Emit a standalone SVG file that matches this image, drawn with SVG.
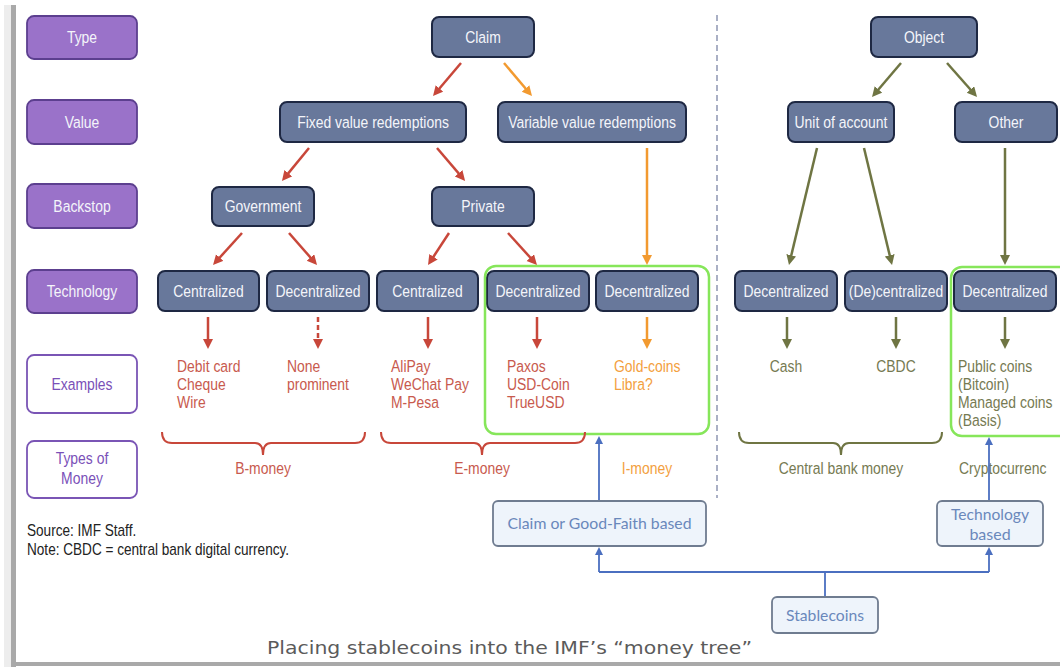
<svg xmlns="http://www.w3.org/2000/svg" width="1060" height="668" viewBox="0 0 1060 668">
<style>
.t{font-family:"Liberation Sans",Arial,sans-serif;font-size:17px}
.w{fill:#f4f5fa}
.c{text-anchor:middle}
.lab rect{fill:#9a72c9;stroke:#5c3f8f;stroke-width:1.8}
.lab2 rect{fill:#ffffff;stroke:#7a55b5;stroke-width:1.8}
.lab2 text{fill:#7a50b8}
.nd rect{fill:#68789b;stroke:#1e2843;stroke-width:2}
.red{fill:#c85a4e}
.org{fill:#f3a040}
.olv{fill:#767a52}
.ar{fill:none;stroke-width:2.5}
.br{fill:none;stroke-width:2}
.bx rect{fill:#eef4fb;stroke:#6f7c90;stroke-width:1.8}
.bt{font-family:Lato,"Open Sans",sans-serif;font-size:16px;fill:#6a88bb;text-anchor:middle}
</style>
<defs>
<marker id="mr" markerUnits="userSpaceOnUse" markerWidth="12" markerHeight="12" refX="6" refY="5" orient="auto"><path d="M0,0 L10,5 L0,10 z" fill="#c8473a"/></marker>
<marker id="mo" markerUnits="userSpaceOnUse" markerWidth="12" markerHeight="12" refX="6" refY="5" orient="auto"><path d="M0,0 L10,5 L0,10 z" fill="#f29a30"/></marker>
<marker id="mg" markerUnits="userSpaceOnUse" markerWidth="12" markerHeight="12" refX="6" refY="5" orient="auto"><path d="M0,0 L10,5 L0,10 z" fill="#6f7543"/></marker>
<marker id="mb" markerUnits="userSpaceOnUse" markerWidth="10" markerHeight="10" refX="5" refY="4" orient="auto"><path d="M0,0 L8,4 L0,8 z" fill="#4b6fc0"/></marker>
</defs>
<rect width="1060" height="668" fill="#ffffff"/>
<!-- frame -->
<rect x="4" y="5" width="7" height="662" fill="#ededed"/>
<rect x="11" y="5" width="5" height="662" fill="#a9a9a9"/>
<rect x="11" y="662" width="1049" height="4" fill="#a9a9a9"/>
<line x1="717" y1="15" x2="717" y2="498" stroke="#8e96b2" stroke-width="1.5" stroke-dasharray="6,4"/>

<!-- left labels -->
<g id="lab-type" class="lab"><rect x="27" y="16" width="110" height="43" rx="7"/><text class="t w c" transform="translate(82 43) scale(.82 1)">Type</text></g>
<g id="lab-value" class="lab"><rect x="27" y="100" width="110" height="44" rx="7"/><text class="t w c" transform="translate(82 128) scale(.82 1)">Value</text></g>
<g id="lab-backstop" class="lab"><rect x="27" y="184" width="110" height="44" rx="7"/><text class="t w c" transform="translate(82 212) scale(.82 1)">Backstop</text></g>
<g id="lab-tech" class="lab"><rect x="27" y="270" width="110" height="43" rx="7"/><text class="t w c" transform="translate(82 297) scale(.82 1)">Technology</text></g>
<g id="lab-examples" class="lab2"><rect x="27" y="355" width="110" height="58" rx="7"/><text class="t c" transform="translate(82 390) scale(.82 1)">Examples</text></g>
<g id="lab-types" class="lab2"><rect x="27" y="441" width="110" height="57" rx="7"/><text class="t c" transform="translate(82 464) scale(.82 1)">Types of</text><text class="t c" transform="translate(82 484) scale(.82 1)">Money</text></g>

<!-- tree nodes -->
<g id="n-claim" class="nd"><rect x="432" y="17" width="102" height="40" rx="7"/><text class="t w c" transform="translate(483 43) scale(.82 1)">Claim</text></g>
<g id="n-fixed" class="nd"><rect x="280" y="102" width="186" height="40" rx="7"/><text class="t w c" transform="translate(373 128) scale(.82 1)">Fixed value redemptions</text></g>
<g id="n-var" class="nd"><rect x="498" y="102" width="188" height="40" rx="7"/><text class="t w c" transform="translate(592 128) scale(.82 1)">Variable value redemptions</text></g>
<g id="n-gov" class="nd"><rect x="212" y="187" width="102" height="39" rx="7"/><text class="t w c" transform="translate(263 212) scale(.82 1)">Government</text></g>
<g id="n-priv" class="nd"><rect x="432" y="187" width="102" height="39" rx="7"/><text class="t w c" transform="translate(483 212) scale(.82 1)">Private</text></g>
<g id="n-object" class="nd"><rect x="871" y="17" width="106" height="40" rx="7"/><text class="t w c" transform="translate(924 43) scale(.82 1)">Object</text></g>
<g id="n-unit" class="nd"><rect x="788" y="102" width="106" height="40" rx="7"/><text class="t w c" transform="translate(841 128) scale(.82 1)">Unit of account</text></g>
<g id="n-other" class="nd"><rect x="955" y="102" width="102" height="40" rx="7"/><text class="t w c" transform="translate(1006 128) scale(.82 1)">Other</text></g>

<g id="t1" class="nd"><rect x="158" y="271" width="101" height="40" rx="7"/><text class="t w c" transform="translate(208.5 297) scale(.82 1)">Centralized</text></g>
<g id="t2" class="nd"><rect x="267" y="271" width="102" height="40" rx="7"/><text class="t w c" transform="translate(318 297) scale(.82 1)">Decentralized</text></g>
<g id="t3" class="nd"><rect x="377" y="271" width="101" height="40" rx="7"/><text class="t w c" transform="translate(427.5 297) scale(.82 1)">Centralized</text></g>
<g id="t4" class="nd"><rect x="487" y="271" width="102" height="40" rx="7"/><text class="t w c" transform="translate(538 297) scale(.82 1)">Decentralized</text></g>
<g id="t5" class="nd"><rect x="596" y="271" width="102" height="40" rx="7"/><text class="t w c" transform="translate(647 297) scale(.82 1)">Decentralized</text></g>
<g id="t6" class="nd"><rect x="735" y="271" width="102" height="40" rx="7"/><text class="t w c" transform="translate(786 297) scale(.82 1)">Decentralized</text></g>
<g id="t7" class="nd"><rect x="845" y="271" width="102" height="40" rx="7"/><text class="t w c" transform="translate(896 297) scale(.82 1)">(De)centralized</text></g>
<g id="t8" class="nd"><rect x="954" y="271" width="102" height="40" rx="7"/><text class="t w c" transform="translate(1005 297) scale(.82 1)">Decentralized</text></g>

<!-- green groupings -->
<g id="grp-imoney"><rect x="485" y="266" width="224" height="168" rx="11" fill="none" stroke="#86e65a" stroke-width="2.5"/></g>
<g id="grp-crypto"><rect x="951" y="267" width="120" height="169" rx="11" fill="none" stroke="#86e65a" stroke-width="2.5"/></g>

<!-- examples -->
<g id="ex1"><text class="t red" transform="translate(177 372) scale(.82 1)">Debit card</text><text class="t red" transform="translate(177 390) scale(.82 1)">Cheque</text><text class="t red" transform="translate(177 408) scale(.82 1)">Wire</text></g>
<g id="ex2"><text class="t red" transform="translate(287 372) scale(.82 1)">None</text><text class="t red" transform="translate(287 390) scale(.82 1)">prominent</text></g>
<g id="ex3"><text class="t red" transform="translate(391 372) scale(.82 1)">AliPay</text><text class="t red" transform="translate(391 390) scale(.82 1)">WeChat Pay</text><text class="t red" transform="translate(391 408) scale(.82 1)">M-Pesa</text></g>
<g id="ex4"><text class="t red" transform="translate(507 372) scale(.82 1)">Paxos</text><text class="t red" transform="translate(507 390) scale(.82 1)">USD-Coin</text><text class="t red" transform="translate(507 408) scale(.82 1)">TrueUSD</text></g>
<g id="ex5"><text class="t org" transform="translate(614 372) scale(.82 1)">Gold-coins</text><text class="t org" transform="translate(614 390) scale(.82 1)">Libra?</text></g>
<g id="ex6"><text class="t olv c" transform="translate(786 372) scale(.82 1)">Cash</text></g>
<g id="ex7"><text class="t olv c" transform="translate(896 372) scale(.82 1)">CBDC</text></g>
<g id="ex8"><text class="t olv" transform="translate(958 372) scale(.82 1)">Public coins</text><text class="t olv" transform="translate(958 390) scale(.82 1)">(Bitcoin)</text><text class="t olv" transform="translate(958 408) scale(.82 1)">Managed coins</text><text class="t olv" transform="translate(958 426) scale(.82 1)">(Basis)</text></g>

<!-- braces and money types -->
<g id="m-b"><path class="br" stroke="#c8473a" d="M162,432 Q162,443 172,443 H255 Q263,443 263,455 Q263,443 271,443 H355 Q365,443 365,432"/><text class="t red c" transform="translate(263 474) scale(.82 1)">B-money</text></g>
<g id="m-e"><path class="br" stroke="#c8473a" d="M381,432 Q381,443 391,443 H474 Q482,443 482,455 Q482,443 490,443 H575 Q585,443 585,432"/><text class="t red c" transform="translate(482 474) scale(.82 1)">E-money</text></g>
<g id="m-i"><text class="t org c" transform="translate(647 474) scale(.82 1)">I-money</text></g>
<g id="m-cb"><path class="br" stroke="#6f7543" d="M739,432 Q739,443 749,443 H833 Q841,443 841,455 Q841,443 849,443 H932 Q942,443 942,432"/><text class="t olv c" transform="translate(841 474) scale(.82 1)">Central bank money</text></g>
<g id="m-c"><text class="t olv" transform="translate(959 474) scale(.82 1)">Cryptocurrenc</text></g>

<!-- connectors -->
<g id="connectors">
<line class="ar" stroke="#c8473a" marker-end="url(#mr)" x1="461" y1="63" x2="435.6" y2="93"/>
<line class="ar" stroke="#f29a30" marker-end="url(#mo)" x1="504" y1="63" x2="529.4" y2="93"/>
<line class="ar" stroke="#c8473a" marker-end="url(#mr)" x1="309" y1="148" x2="284.5" y2="177.9"/>
<line class="ar" stroke="#c8473a" marker-end="url(#mr)" x1="437" y1="148" x2="462.5" y2="177.9"/>
<line class="ar" stroke="#c8473a" marker-end="url(#mr)" x1="242" y1="233" x2="215.7" y2="262"/>
<line class="ar" stroke="#c8473a" marker-end="url(#mr)" x1="289" y1="233" x2="314.4" y2="262"/>
<line class="ar" stroke="#c8473a" marker-end="url(#mr)" x1="449" y1="233" x2="430.2" y2="261.7"/>
<line class="ar" stroke="#c8473a" marker-end="url(#mr)" x1="508" y1="233" x2="534.3" y2="262"/>
<line class="ar" stroke="#f29a30" marker-end="url(#mo)" x1="647" y1="148" x2="647" y2="261"/>
<line class="ar" stroke="#6f7543" marker-end="url(#mg)" x1="901" y1="63" x2="874.6" y2="94"/>
<line class="ar" stroke="#6f7543" marker-end="url(#mg)" x1="947" y1="63" x2="974.4" y2="94"/>
<line class="ar" stroke="#6f7543" marker-end="url(#mg)" x1="817" y1="148" x2="789.9" y2="261.1"/>
<line class="ar" stroke="#6f7543" marker-end="url(#mg)" x1="864" y1="148" x2="891.1" y2="261.1"/>
<line class="ar" stroke="#6f7543" marker-end="url(#mg)" x1="1005" y1="148" x2="1005" y2="261"/>
<line class="ar" stroke="#c8473a" marker-end="url(#mr)" x1="208" y1="317" x2="208" y2="345"/>
<line class="ar" stroke="#c8473a" marker-end="url(#mr)" x1="318" y1="317" x2="318" y2="345" stroke-dasharray="5,3"/>
<line class="ar" stroke="#c8473a" marker-end="url(#mr)" x1="428" y1="317" x2="428" y2="345"/>
<line class="ar" stroke="#c8473a" marker-end="url(#mr)" x1="537" y1="317" x2="537" y2="345"/>
<line class="ar" stroke="#f29a30" marker-end="url(#mo)" x1="647" y1="317" x2="647" y2="345"/>
<line class="ar" stroke="#6f7543" marker-end="url(#mg)" x1="787" y1="317" x2="787" y2="345"/>
<line class="ar" stroke="#6f7543" marker-end="url(#mg)" x1="896" y1="317" x2="896" y2="345"/>
<line class="ar" stroke="#6f7543" marker-end="url(#mg)" x1="1005" y1="317" x2="1005" y2="345"/>
<path d="M825,597 V572 M599,572 H989" fill="none" stroke="#4b6fc0" stroke-width="1.8"/>
<line x1="599" y1="572" x2="599" y2="550" stroke="#4b6fc0" stroke-width="1.8" marker-end="url(#mb)"/>
<line x1="989" y1="572" x2="989" y2="550" stroke="#4b6fc0" stroke-width="1.8" marker-end="url(#mb)"/>
<line x1="599" y1="501" x2="599" y2="439" stroke="#4b6fc0" stroke-width="1.8" marker-end="url(#mb)"/>
<line x1="989" y1="501" x2="989" y2="440" stroke="#4b6fc0" stroke-width="1.8" marker-end="url(#mb)"/>
</g>

<!-- stablecoin boxes -->
<g id="b-claim" class="bx"><rect x="493" y="501" width="213" height="45" rx="5"/><text class="bt" x="599.5" y="529" textLength="184" lengthAdjust="spacingAndGlyphs">Claim or Good-Faith based</text></g>
<g id="b-tech" class="bx"><rect x="937" y="501" width="106" height="45" rx="5"/><text class="bt" x="990" y="520" textLength="78" lengthAdjust="spacingAndGlyphs">Technology</text><text class="bt" x="990" y="540">based</text></g>
<g id="b-stable" class="bx"><rect x="772" y="597" width="106" height="36" rx="5"/><text class="bt" x="825" y="621" textLength="78" lengthAdjust="spacingAndGlyphs">Stablecoins</text></g>

<!-- notes -->
<g id="notes" fill="#222">
<text style="font-family:'Liberation Sans',Arial,sans-serif;font-size:16px" transform="translate(27 536) scale(.85 1)">Source: IMF Staff.</text>
<text style="font-family:'Liberation Sans',Arial,sans-serif;font-size:16px" transform="translate(27 555) scale(.85 1)">Note: CBDC = central bank digital currency.</text>
</g>
<text x="267" y="654" style="font-family:'DejaVu Sans',sans-serif;font-size:18px" fill="#5b5b5b" textLength="485" lengthAdjust="spacingAndGlyphs">Placing stablecoins into the IMF’s “money tree”</text>
</svg>
